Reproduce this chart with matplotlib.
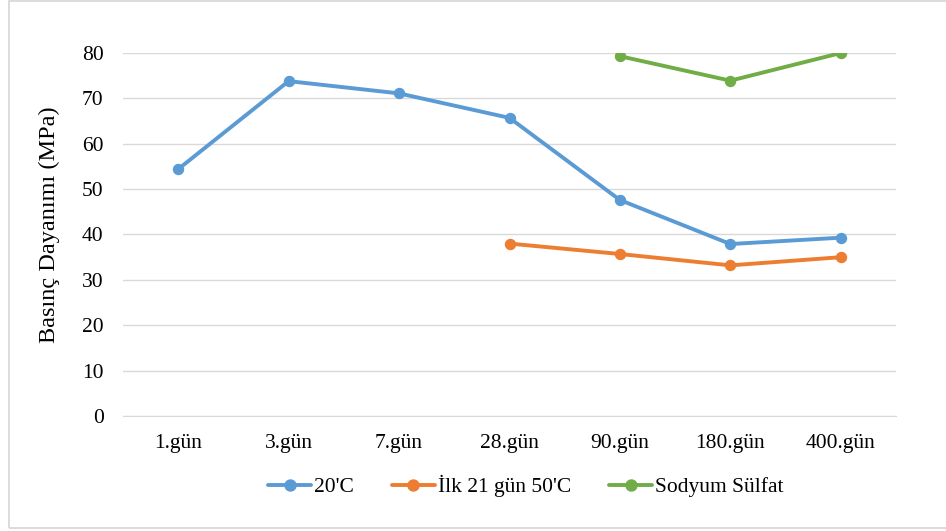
import matplotlib
matplotlib.use("Agg")
import matplotlib.pyplot as plt
import numpy as np
from matplotlib.patches import Rectangle

plt.rcParams['font.family'] = ['Liberation Serif', 'DejaVu Serif']

categories = ["1.gün", "3.gün", "7.gün", "28.gün", "90.gün", "180.gün", "400.gün"]
series_20c = [54.4, 73.8, 71.1, 65.7, 47.6, 37.9, 39.3]
series_50c = [None, None, None, 38.0, 35.7, 33.2, 35.0]
series_sulfat = [None, None, None, None, 79.3, 73.9, 80.0]
series_names = ["20'C", "İlk 21 gün 50'C", "Sodyum Sülfat"]
colors = ["#5B9BD5", "#ED7D31", "#70AD47"]
yticks = [0, 10, 20, 30, 40, 50, 60, 70, 80]

fig = plt.figure(figsize=(9.46, 5.31), dpi=100)
ax = fig.add_axes([123 / 946, 1 - 416 / 531, (896 - 123) / 946, (416 - 53) / 531])

# outer frame of the chart area
fig.patches.append(Rectangle((8.5 / 946, 1 - 527.5 / 531), 1.0, 526.5 / 531,
                             transform=fig.transFigure, fill=False,
                             edgecolor="#D9D9D9", linewidth=1.3))

x = np.arange(len(categories))
for vals, name, col in zip([series_20c, series_50c, series_sulfat], series_names, colors):
    y = np.array([np.nan if v is None else v for v in vals], dtype=float)
    ax.plot(x, y, color=col, linewidth=2.8, marker="o", markersize=7.2,
            label=name, solid_capstyle="round")

ax.set_xlim(-0.5, len(categories) - 0.5)
ax.set_ylim(0, 80)
ax.set_yticks(yticks)
ax.set_xticks(x)
ax.set_xticklabels(categories)
ax.grid(axis="y", color="#D9D9D9", linewidth=1.0)
ax.set_axisbelow(True)
for s in ["top", "right", "left"]:
    ax.spines[s].set_visible(False)
ax.spines["bottom"].set_color("#D9D9D9")
ax.tick_params(axis="both", length=0, labelsize=15.5, colors="#000000")
ax.tick_params(axis="y", pad=14)
ax.tick_params(axis="x", pad=13)
ax.set_ylabel("Basınç Dayanımı (MPa)", fontsize=17.5)
ax.yaxis.set_label_coords(-0.081, 0.526)

fig.legend(loc="center", bbox_to_anchor=(526 / 946, 1 - 486 / 531), ncol=3,
           frameon=False, fontsize=15.5, handlelength=2.0, columnspacing=1.75,
           handletextpad=0.15, markerscale=1.1)

fig.savefig("out.png", dpi=100, facecolor="white")
